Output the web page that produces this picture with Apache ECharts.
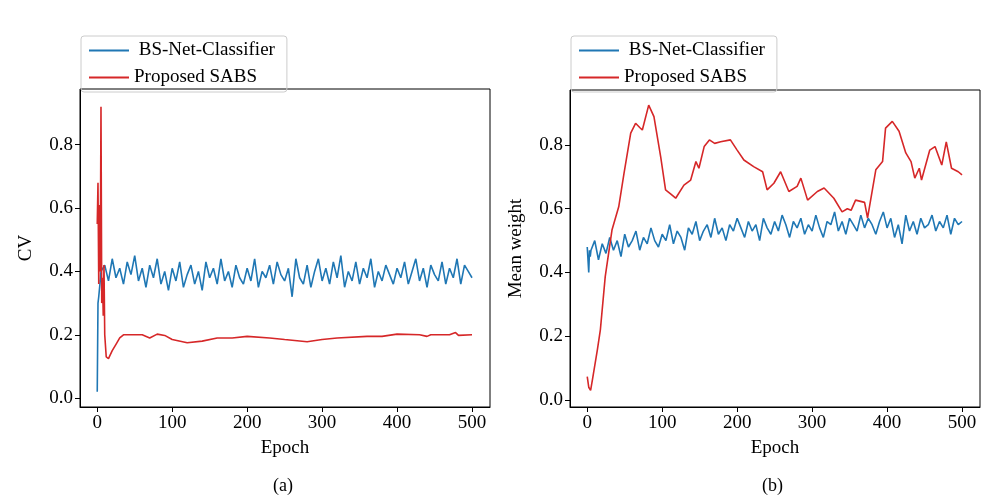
<!DOCTYPE html>
<html>
<head>
<meta charset="utf-8">
<script src="https://cdn.jsdelivr.net/npm/echarts@6/dist/echarts.min.js"></script>
<style>html,body{margin:0;padding:0;background:#fff}#chart{width:1000px;height:500px}</style>
</head>
<body>
<div id="chart"></div>
<script>
// MARK: - Data
const epochTicks = [0, 100, 200, 300, 400, 500];
const cvTicks = [0, 0.2, 0.4, 0.6, 0.8];
const mwTicks = [0, 0.2, 0.4, 0.6, 0.8];

// (a) CV, blue: first epochs, then every 5 epochs from 5 to 500
const blueCvHeadX = [0, 1, 2, 3, 4];
const blueCvHead = [0.02, 0.30, 0.32, 0.32, 0.37];
const blueCv = [0.40, 0.42, 0.37, 0.44, 0.38, 0.41, 0.36, 0.43, 0.39, 0.45,
    0.37, 0.41, 0.35, 0.42, 0.38, 0.44, 0.36, 0.40, 0.34, 0.41,
    0.37, 0.43, 0.35, 0.39, 0.42, 0.36, 0.40, 0.34, 0.43, 0.38,
    0.41, 0.36, 0.44, 0.37, 0.40, 0.35, 0.42, 0.38, 0.36, 0.41,
    0.37, 0.44, 0.35, 0.40, 0.38, 0.42, 0.36, 0.43, 0.39, 0.37,
    0.41, 0.32, 0.44, 0.38, 0.36, 0.42, 0.35, 0.40, 0.44, 0.37,
    0.41, 0.36, 0.43, 0.38, 0.45, 0.35, 0.40, 0.37, 0.43, 0.36,
    0.41, 0.38, 0.44, 0.35, 0.40, 0.37, 0.42, 0.39, 0.36, 0.41,
    0.38, 0.43, 0.36, 0.40, 0.44, 0.37, 0.41, 0.35, 0.42, 0.39,
    0.37, 0.43, 0.36, 0.41, 0.38, 0.44, 0.36, 0.42, 0.40, 0.38];

// (a) CV, red
const redCvX = [0, 1, 2, 3, 4, 5, 6, 7, 8, 9, 10, 12, 15, 17, 20, 25, 30, 35, 50, 60, 70, 80, 90, 100,
    120, 140, 160, 180, 200, 230, 250, 280, 300, 320, 360, 380, 400, 430, 440, 445, 470, 478, 482, 500];
const redCv = [0.55, 0.68, 0.36, 0.61, 0.40, 0.92, 0.30, 0.38, 0.26, 0.42, 0.20, 0.13, 0.125, 0.135, 0.15, 0.17, 0.19, 0.20, 0.20, 0.20, 0.19, 0.202, 0.198, 0.185,
    0.175, 0.18, 0.19, 0.19, 0.195, 0.19, 0.185, 0.178, 0.185, 0.19, 0.195, 0.195, 0.202, 0.2, 0.195, 0.2, 0.2, 0.207, 0.198, 0.2];

// (b) Mean weight, blue: first epochs, then every 5 epochs from 5 to 500
const blueMwHeadX = [0, 1, 2, 3, 4];
const blueMwHead = [0.48, 0.44, 0.40, 0.47, 0.45];
const blueMw = [0.47, 0.50, 0.44, 0.49, 0.46, 0.51, 0.47, 0.50, 0.45, 0.52,
    0.48, 0.50, 0.53, 0.47, 0.51, 0.49, 0.54, 0.50, 0.48, 0.52,
    0.50, 0.55, 0.49, 0.53, 0.51, 0.47, 0.54, 0.52, 0.56, 0.50,
    0.53, 0.55, 0.51, 0.57, 0.52, 0.54, 0.50, 0.55, 0.53, 0.57,
    0.54, 0.51, 0.56, 0.53, 0.55, 0.50, 0.57, 0.54, 0.52, 0.56,
    0.53, 0.58, 0.55, 0.51, 0.56, 0.54, 0.57, 0.52, 0.55, 0.53,
    0.58, 0.54, 0.51, 0.56, 0.55, 0.59, 0.53, 0.56, 0.52, 0.57,
    0.55, 0.53, 0.58, 0.54, 0.57, 0.55, 0.52, 0.56, 0.59, 0.54,
    0.57, 0.51, 0.55, 0.49, 0.58, 0.53, 0.56, 0.52, 0.57, 0.54,
    0.55, 0.58, 0.53, 0.56, 0.54, 0.58, 0.52, 0.57, 0.55, 0.56];

// (b) Mean weight, red
const redMwX = [0, 2, 4.5, 7, 9, 13.5, 17.5, 24, 33, 42, 49, 58, 64.5, 70, 73.5, 82, 89, 98, 104.5, 112, 118, 129, 138, 145, 149, 156, 163,
    170, 178, 191, 200, 209, 222, 234, 240, 249, 258, 269, 280, 285, 294, 307, 316, 329, 340, 347, 352, 358, 370, 374, 385,
    394, 398, 407, 416, 425, 432, 437, 443, 446, 457, 464, 473, 479, 486, 495, 500];
const redMw = [0.073, 0.04, 0.03, 0.065, 0.06, 0.157, 0.22, 0.387, 0.533, 0.606, 0.71, 0.837, 0.868, 0.855, 0.847, 0.925, 0.889, 0.763, 0.659, 0.645, 0.633, 0.674, 0.69, 0.748, 0.727, 0.795, 0.816,
    0.805, 0.81, 0.816, 0.784, 0.753, 0.732, 0.716, 0.659, 0.68, 0.716, 0.654, 0.67, 0.696, 0.627, 0.654, 0.665, 0.633, 0.59, 0.6, 0.595, 0.627, 0.62, 0.571, 0.722,
    0.748, 0.853, 0.874, 0.843, 0.775, 0.748, 0.696, 0.727, 0.69, 0.784, 0.795, 0.737, 0.81, 0.727, 0.716, 0.706];

// MARK: - Helpers
function pairs(xs, ys) {
    return xs.map((x, i) => [x, ys[i]]);
}
function everyFive(head, headX, vals) {
    return pairs(headX, head).concat(vals.map((v, i) => [5 + i * 5, v]));
}

const font = 'Liberation Serif';
const blue = '#1f77b4';
const red = '#d62728';

function xAxisFor(gridIndex) {
    return {
        type: 'value', gridIndex: gridIndex, min: -23, max: 524,
        name: 'Epoch', nameLocation: 'middle', nameGap: 32,
        nameTextStyle: { fontFamily: font, fontSize: 19, color: '#000' },
        axisLine: { onZero: false, lineStyle: { color: '#000' } },
        axisTick: { show: true, customValues: epochTicks, length: 5, lineStyle: { color: '#000' } },
        axisLabel: { customValues: epochTicks, fontFamily: font, fontSize: 19, color: '#000', margin: 7 },
        splitLine: { show: false }
    };
}
function yAxisFor(gridIndex, name, ticks, min, max) {
    return {
        type: 'value', gridIndex: gridIndex, min: min, max: max,
        name: name, nameLocation: 'middle', nameGap: 44,
        nameTextStyle: { fontFamily: font, fontSize: 19, color: '#000' },
        axisLine: { show: true, onZero: false, lineStyle: { color: '#000' } },
        axisTick: { show: true, customValues: ticks, length: 5, lineStyle: { color: '#000' } },
        axisLabel: { customValues: ticks, fontFamily: font, fontSize: 19, color: '#000', margin: 7,
            formatter: v => v.toFixed(1) },
        splitLine: { show: false }
    };
}
function legendAt(left) {
    return {
        left: left, top: 36, orient: 'vertical', itemGap: 8,
        itemWidth: 40, itemHeight: 2, icon: 'rect',
        borderColor: '#ccc', borderWidth: 1, borderRadius: 3, padding: [5, 12, 5, 8],
        textStyle: { fontFamily: font, fontSize: 19, color: '#000' },
        data: [' BS-Net-Classifier', 'Proposed SABS']
    };
}
function line(name, color, xIdx, data) {
    return {
        name: name, type: 'line', xAxisIndex: xIdx, yAxisIndex: xIdx,
        showSymbol: false, symbol: 'none', animation: false,
        lineStyle: { color: color, width: 1.6 }, itemStyle: { color: color },
        data: data
    };
}

// MARK: - Chart
const chart = echarts.init(document.getElementById('chart'));
chart.setOption({
    animation: false,
    backgroundColor: '#fff',
    grid: [
        { left: 80, top: 89, width: 410, height: 318, show: true, borderColor: '#000', borderWidth: 1 },
        { left: 570, top: 90, width: 410, height: 317, show: true, borderColor: '#000', borderWidth: 1 }
    ],
    legend: [legendAt(81), legendAt(571)],
    xAxis: [xAxisFor(0), xAxisFor(1)],
    yAxis: [yAxisFor(0, 'CV', cvTicks, -0.028, 0.976), yAxisFor(1, 'Mean weight', mwTicks, -0.022, 0.9725)],
    series: [
        line(' BS-Net-Classifier', blue, 0, everyFive(blueCvHead, blueCvHeadX, blueCv)),
        line('Proposed SABS', red, 0, pairs(redCvX, redCv)),
        line(' BS-Net-Classifier', blue, 1, everyFive(blueMwHead, blueMwHeadX, blueMw)),
        line('Proposed SABS', red, 1, pairs(redMwX, redMw))
    ],
    graphic: [
        { type: 'text', left: 273, top: 477, style: { text: '(a)', font: '18px "Liberation Serif"', fill: '#000' } },
        { type: 'text', left: 762, top: 477, style: { text: '(b)', font: '18px "Liberation Serif"', fill: '#000' } }
    ]
});
</script>
</body>
</html>
